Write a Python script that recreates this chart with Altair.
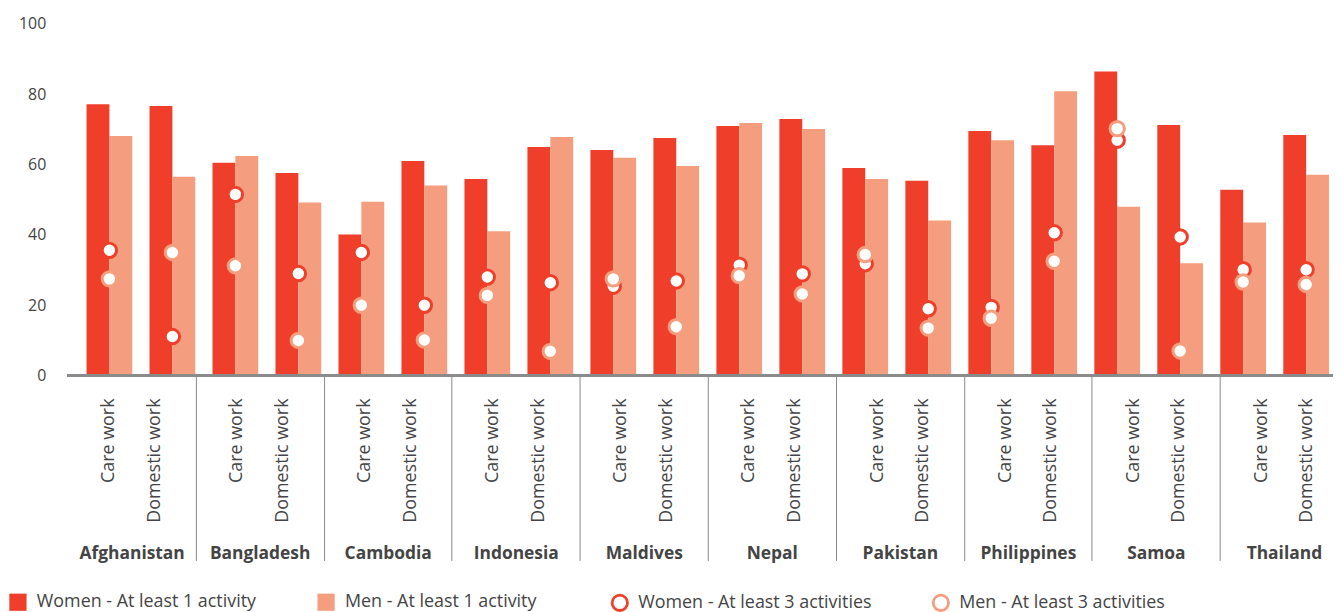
import altair as alt
import pandas as pd

countries = ["Afghanistan", "Bangladesh", "Cambodia", "Indonesia", "Maldives",
             "Nepal", "Pakistan", "Philippines", "Samoa", "Thailand"]
activities = ["Care work", "Domestic work"]

women_1 = [77.1, 76.6, 60.5, 57.6, 40.1, 61.0, 55.9, 65.0, 64.1, 67.5,
           70.9, 72.9, 59.0, 55.4, 69.5, 65.5, 86.4, 71.2, 52.8, 68.4]
men_1 = [68.1, 56.5, 62.4, 49.2, 49.4, 54.0, 41.0, 67.8, 61.9, 59.6,
         71.8, 70.1, 55.9, 44.1, 66.9, 80.8, 48.0, 31.9, 43.5, 57.1]
women_3 = [35.6, 11.1, 51.5, 29.0, 35.0, 20.0, 28.0, 26.4, 25.4, 26.9,
           31.4, 28.9, 31.8, 19.0, 19.4, 40.6, 66.9, 39.4, 30.1, 30.1]
men_3 = [27.5, 35.0, 31.2, 10.0, 20.0, 10.1, 22.8, 6.9, 27.5, 13.9,
         28.4, 23.2, 34.4, 13.5, 16.3, 32.5, 70.2, 7.0, 26.6, 25.9]

S_W1 = "Women - At least 1 activity"
S_M1 = "Men - At least 1 activity"
S_W3 = "Women - At least 3 activities"
S_M3 = "Men - At least 3 activities"

RED = "#EF3F2B"
SALMON = "#F49E7F"
TEXT = "#444444"
FONT = "Open Sans"

keys, kc, ka = [], [], []
for c in countries:
    for a in activities:
        keys.append(c + "|" + a)
        kc.append(c)
        ka.append(a)

bar_rows = []
for i, k in enumerate(keys):
    bar_rows.append({"key": k, "gender": "Women", "series": S_W1, "value": women_1[i]})
    bar_rows.append({"key": k, "gender": "Men", "series": S_M1, "value": men_1[i]})
df_bars = pd.DataFrame(bar_rows)

pt_rows = []
for i, k in enumerate(keys):
    pt_rows.append({"key": k, "series3": S_W3, "value": women_3[i]})
for i, k in enumerate(keys):
    pt_rows.append({"key": k, "series3": S_M3, "value": men_3[i]})
df_pts = pd.DataFrame(pt_rows)

df_lab = pd.DataFrame({"country": kc, "activity": ka})

key_scale = dict(type="band", paddingInner=0.274, paddingOuter=0.3)

y_enc = alt.Y("value:Q",
              scale=alt.Scale(domain=[0, 100]),
              axis=alt.Axis(values=[0, 20, 40, 60, 80, 100], domain=False, ticks=False,
                            grid=False, labelPadding=22, labelFontSize=16,
                            labelFont=FONT, labelColor=TEXT, title=None))

bars = alt.Chart(df_bars).mark_bar().encode(
    x=alt.X("key:N", sort=keys, scale=alt.Scale(**key_scale), axis=None),
    xOffset=alt.XOffset("gender:N", sort=["Women", "Men"],
                        scale=alt.Scale(paddingInner=0, paddingOuter=0)),
    y=y_enc,
    color=alt.Color("series:N",
                    scale=alt.Scale(domain=[S_W1, S_M1], range=[RED, SALMON]),
                    legend=alt.Legend(orient="none", legendX=-59, legendY=573,
                                      direction="horizontal", columns=2, title=None,
                                      symbolType="square", symbolSize=300,
                                      symbolStrokeWidth=0, labelFontSize=18,
                                      labelFont=FONT, labelColor=TEXT,
                                      labelOffset=10, columnPadding=61, padding=0,
                                      labelLimit=400)),
)

points = alt.Chart(df_pts).mark_point(filled=False, fill="white", size=210,
                                      strokeWidth=3, opacity=1).encode(
    x=alt.X("key:N", sort=keys, scale=alt.Scale(**key_scale), axis=None),
    y=alt.Y("value:Q"),
    color=alt.Color("series3:N",
                    scale=alt.Scale(domain=[S_W3, S_M3], range=[RED, SALMON]),
                    legend=alt.Legend(orient="none", legendX=546, legendY=573,
                                      direction="horizontal", columns=2, title=None,
                                      symbolType="circle", symbolSize=240,
                                      symbolStrokeWidth=2.8, labelFontSize=18,
                                      labelFont=FONT, labelColor=TEXT,
                                      labelOffset=9, columnPadding=56, padding=0,
                                      labelLimit=400)),
)

baseline = alt.Chart(df_bars).mark_rule(color="#8a8a8a", strokeWidth=1.5).encode(
    y=alt.datum(0)
)

labels = alt.Chart(df_lab).mark_text(angle=270, align="right", baseline="middle",
                                     fontSize=18, font=FONT, color=TEXT).encode(
    x=alt.X("country:N", sort=countries,
            scale=alt.Scale(type="band", paddingInner=0, paddingOuter=0),
            axis=alt.Axis(orient="bottom", domain=False, ticks=True, tickBand="extent",
                          tickSize=186, tickColor="#888888", tickWidth=1,
                          tickOpacity={"expr": "datum.extra ? 0 : 1"},
                          labelAngle=0, labelPadding=-16, labelFontSize=17.5,
                          labelFontWeight="bold", labelFont=FONT, labelColor=TEXT,
                          title=None)),
    xOffset=alt.XOffset("activity:N", sort=activities,
                        scale=alt.Scale(type="band", paddingInner=0, paddingOuter=0,
                                        range=[19, 111])),
    y=alt.value(377),
    text="activity:N",
)

chart = alt.layer(bars, points, baseline, labels).resolve_scale(
    x="independent", xOffset="independent", color="independent"
).properties(
    width=1288, height=354,
    autosize="none",
    padding={"left": 60, "top": 14, "right": -15, "bottom": 236},
).configure_view(stroke=None).configure_axis(grid=False)

chart.save("out.html", embed_options={"renderer": "svg", "actions": False})
